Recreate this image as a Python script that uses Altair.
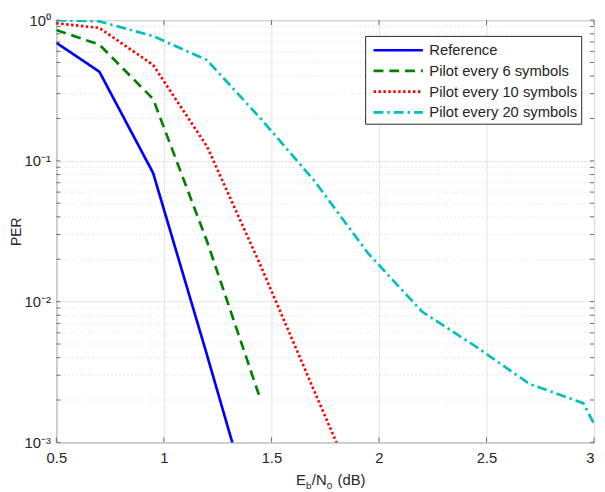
import altair as alt
import pandas as pd

# ---- data ----
ebn0 = [0.5, 0.7, 0.95, 1.2, 1.45, 1.7, 1.95, 2.2, 2.45, 2.7, 2.95, 3.2]
per_reference = [0.69, 0.43, 0.082, 0.0042, 0.0002]
per_pilot6 = [0.85, 0.67, 0.275, 0.027, 0.002]
per_pilot10 = [0.95, 0.88, 0.48, 0.127, 0.018, 0.0023, 0.0003]
per_pilot20 = [1.0, 0.98, 0.77, 0.52, 0.2, 0.072, 0.022, 0.0085, 0.0048, 0.0026, 0.0019, 0.00035]

series_names = ["Reference", "Pilot every 6 symbols", "Pilot every 10 symbols", "Pilot every 20 symbols"]
series_values = [per_reference, per_pilot6, per_pilot10, per_pilot20]
series_colors = ["#0000ff", "#008000", "#ff0000", "#00bfbf"]
series_dashes = [[1, 0], [10, 6], [2.5, 2.5], [10, 4, 2.5, 4]]

x_ticks = [0.5, 1, 1.5, 2, 2.5, 3]
y_major = [0.001, 0.01, 0.1, 1]
y_minor = [0.002, 0.003, 0.004, 0.005, 0.006, 0.007, 0.008, 0.009,
           0.02, 0.03, 0.04, 0.05, 0.06, 0.07, 0.08, 0.09,
           0.2, 0.3, 0.4, 0.5, 0.6, 0.7, 0.8, 0.9]

FONT = "Liberation Sans"
TXT = "#262626"
W, H = 545, 428

rows = []
for name, vals in zip(series_names, series_values):
    for i, v in enumerate(vals):
        rows.append({"series": name, "ebn0": ebn0[i], "per": v, "i": i})
df = pd.DataFrame(rows)

xscale = alt.Scale(domain=[0.5, 3], nice=False, zero=False)
yscale = alt.Scale(type="log", domain=[0.001, 1], nice=False)

label_expr = ("datum.value >= 1 ? '10\u2070' : datum.value >= 0.1 ? '10\u207b\u00b9' : "
              "datum.value >= 0.01 ? '10\u207b\u00b2' : '10\u207b\u00b3'")

x_axis = alt.Axis(values=x_ticks, labelExpr="toString(datum.value)",
                  grid=True, gridColor="#e3e3e3", ticks=False, domain=False,
                  labelFlush=False, labelBound=False, labelOverlap=False,
                  labelAlign=alt.condition("datum.value >= 3", alt.value("right"), alt.value("center")),
                  labelFontSize=15, labelFont=FONT, labelColor=TXT, labelPadding=8)
y_axis = alt.Axis(values=y_major, labelExpr=label_expr,
                  grid=True, gridColor="#e3e3e3", ticks=False, domain=False,
                  labelFlush=False, labelBound=False, labelOverlap=False,
                  labelFontSize=15, labelFont=FONT, labelColor=TXT, labelPadding=6,
                  titleFont=FONT, titleFontSize=14, titleFontWeight="normal",
                  titleColor=TXT, titleX=-47, titleY=H / 2, titleBaseline="top",
                  titleAngle=270)


def X(field):
    return alt.X(field, scale=xscale, title=None, axis=x_axis)


def Y(field):
    return alt.Y(field, scale=yscale, title="PER", axis=y_axis)


lines = alt.Chart(df).mark_line(strokeWidth=2.7, clip=True).encode(
    x=X("ebn0:Q"),
    y=Y("per:Q"),
    color=alt.Color("series:N", scale=alt.Scale(domain=series_names, range=series_colors),
                    legend=alt.Legend(title=None)),
    strokeDash=alt.StrokeDash("series:N", scale=alt.Scale(domain=series_names, range=series_dashes),
                              legend=alt.Legend(title=None)),
    order=alt.Order("i:Q"),
)

minor_df = pd.DataFrame({"v": y_minor})
minor_grid = alt.Chart(minor_df).mark_rule(color="#d4d4d4", strokeDash=[1, 3], strokeWidth=1).encode(
    y=Y("v:Q")
)

ytick_df = pd.DataFrame({"v": y_major + y_minor})
ytick_left = alt.Chart(ytick_df).mark_rule(color="#6b6b6b").encode(
    y=Y("v:Q"), x=alt.value(0), x2=alt.value(4))
ytick_right = alt.Chart(ytick_df).mark_rule(color="#6b6b6b").encode(
    y=Y("v:Q"), x=alt.value(W - 4), x2=alt.value(W))

xtick_df = pd.DataFrame({"v": x_ticks})
xtick_bottom = alt.Chart(xtick_df).mark_rule(color="#6b6b6b").encode(
    x=X("v:Q"), y=alt.value(H - 5), y2=alt.value(H))
xtick_top = alt.Chart(xtick_df).mark_rule(color="#6b6b6b").encode(
    x=X("v:Q"), y=alt.value(0), y2=alt.value(5))

one = alt.Data(values=[{"k": 0}])


def txt(s, x, y, size):
    return alt.Chart(one).mark_text(text=s, align="left", baseline="alphabetic", font=FONT,
                                    fontSize=size, color=TXT).encode(x=alt.value(x), y=alt.value(y))


xtitle = (txt("E", 243, 471, 15) + txt("b", 253, 475, 10) + txt("/N", 259, 471, 15)
          + txt("0", 274, 475, 10) + txt("(dB)", 285, 471, 15))

chart = alt.layer(minor_grid, lines, ytick_left, ytick_right, xtick_bottom, xtick_top, xtitle).properties(
    width=W, height=H,
    padding={"left": 49, "top": 9, "right": 3, "bottom": 47},
    autosize=alt.AutoSizeParams(type="none"),
).configure_view(stroke="#6b6b6b", strokeWidth=1).configure_legend(
    orient="none", legendX=313, legendY=16, fillColor="white", strokeColor="#262626",
    padding=3, rowPadding=1, symbolType="M-0.6,0L4.4,0", symbolSize=400,
    symbolStrokeWidth=2.7, labelOffset=39, labelFont=FONT, labelFontSize=15, labelColor=TXT,
    labelLimit=300,
)

chart.save("out.html", embed_options={"renderer": "svg", "actions": False})
